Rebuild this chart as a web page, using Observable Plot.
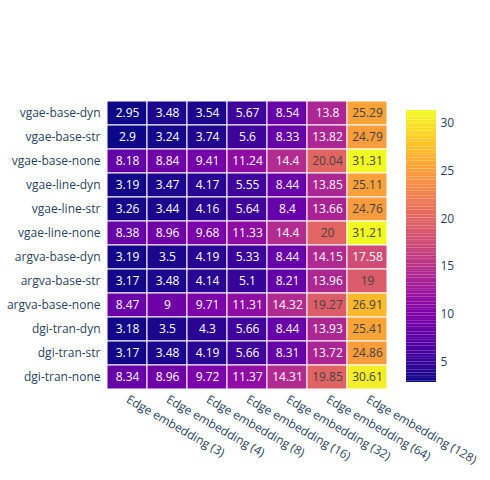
<html>
<head>
  <script src="https://cdn.jsdelivr.net/npm/d3@7"></script>
  <script src="https://cdn.jsdelivr.net/npm/@observablehq/plot@0.6"></script>
  <style>
    body { margin: 0; background: #fff; }
    #wrap { position: relative; width: 490px; height: 480px; font-family: "Open Sans", sans-serif; }
    #wrap > div { position: absolute; top: 0; }
  </style>
</head>
<body>
  <div id="wrap"><div id="chart" style="left:0"></div><div id="bar" style="left:380px"></div></div>
  <script>
    // row and column labels
    const models = ["vgae-base-dyn", "vgae-base-str", "vgae-base-none", "vgae-line-dyn", "vgae-line-str", "vgae-line-none",
      "argva-base-dyn", "argva-base-str", "argva-base-none", "dgi-tran-dyn", "dgi-tran-str", "dgi-tran-none"];
    const dims = ["Edge embedding (3)", "Edge embedding (4)", "Edge embedding (8)", "Edge embedding (16)",
      "Edge embedding (32)", "Edge embedding (64)", "Edge embedding (128)"];
    // one row of values per model
    const values = [
      [2.95, 3.48, 3.54, 5.67, 8.54, 13.8, 25.29],
      [2.9, 3.24, 3.74, 5.6, 8.33, 13.82, 24.79],
      [8.18, 8.84, 9.41, 11.24, 14.4, 20.04, 31.31],
      [3.19, 3.47, 4.17, 5.55, 8.44, 13.85, 25.11],
      [3.26, 3.44, 4.16, 5.64, 8.4, 13.66, 24.76],
      [8.38, 8.96, 9.68, 11.33, 14.4, 20, 31.21],
      [3.19, 3.5, 4.19, 5.33, 8.44, 14.15, 17.58],
      [3.17, 3.48, 4.14, 5.1, 8.21, 13.96, 19],
      [8.47, 9, 9.71, 11.31, 14.32, 19.27, 26.91],
      [3.18, 3.5, 4.3, 5.66, 8.44, 13.93, 25.41],
      [3.17, 3.48, 4.19, 5.66, 8.31, 13.72, 24.86],
      [8.34, 8.96, 9.72, 11.37, 14.31, 19.85, 30.61]
    ];
    const barTicks = [5, 10, 15, 20, 25, 30];

    const cells = models.flatMap((m, i) => dims.map((d, j) => ({model: m, dim: d, v: values[i][j]})));
    const vmin = d3.min(values.flat()), vmax = d3.max(values.flat());
    const color = {type: "linear", scheme: "plasma", domain: [vmin, vmax]};

    const chart = Plot.plot({
      width: 490, height: 480,
      marginLeft: 104, marginTop: 100, marginRight: 100, marginBottom: 90,
      style: {fontSize: "12px", fontFamily: "Open Sans, sans-serif", color: "#2a3f5f"},
      x: {domain: dims, label: null, padding: 0, tickSize: 0, tickRotate: 30, tickPadding: 8},
      y: {domain: models, label: null, padding: 0, tickSize: 0, tickPadding: 4},
      color,
      marks: [
        Plot.cell(cells, {x: "dim", y: "model", fill: "v", stroke: "white", strokeWidth: 1}),
        Plot.text(cells, {x: "dim", y: "model", text: d => String(d.v), fontSize: 12,
          fill: d => d.v > 18 ? "#444" : "white"})
      ]
    });
    // rotated labels hang from the tick
    chart.querySelectorAll("[aria-label='x-axis tick label'] text").forEach(t => t.setAttribute("text-anchor", "start"));
    document.getElementById("chart").appendChild(chart);

    // colorbar
    const stops = d3.range(0, 101).map(k => vmin + (vmax - vmin) * k / 100);
    const step = (vmax - vmin) / 100;
    const bar = Plot.plot({
      width: 110, height: 480,
      marginTop: 110, marginBottom: 98, marginLeft: 26, marginRight: 54,
      style: {fontSize: "12px", fontFamily: "Open Sans, sans-serif", color: "#2a3f5f"},
      x: {axis: null, domain: [0, 1]},
      y: {domain: [vmin, vmax], axis: "right", ticks: barTicks, tickSize: 0, tickPadding: 4, label: null},
      color,
      marks: [
        Plot.rect(stops, {x1: 0, x2: 1, y1: d => Math.max(vmin, d - step / 2), y2: d => Math.min(vmax, d + step / 2), fill: d => d})
      ]
    });
    document.getElementById("bar").appendChild(bar);
  </script>
</body>
</html>
